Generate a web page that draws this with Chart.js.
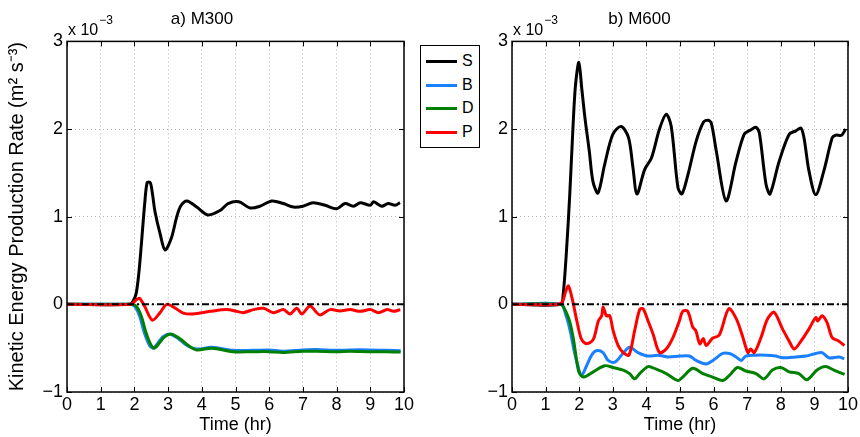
<!DOCTYPE html>
<html>
<head>
<meta charset="utf-8">
<script src="https://cdn.jsdelivr.net/npm/chart.js@4"></script>
<style>
  body { margin: 0; background: #fff; font-family: "Liberation Sans", Arial, sans-serif; }
  .panel { position: absolute; top: 0; }
  #legend { position: absolute; left: 420px; top: 45px; width: 58px; height: 101px;
            border: 1px solid #000; background: #fff; }
  #legend .row { position: absolute; left: 5px; height: 20px; }
  #legend .ln { position: absolute; left: 0; top: 9px; width: 31px; height: 3px; }
  #legend .lb { position: absolute; left: 36px; top: 0; font-size: 16px; line-height: 20px; }
</style>
</head>
<body>
<div class="panel" style="left:0"><canvas id="chart1" width="430" height="437"></canvas></div>
<div class="panel" style="left:430px"><canvas id="chart2" width="430" height="437"></canvas></div>
<div id="legend"></div>
<script>
// values in units of 1e-3 m^2 s^-3, time in hours
const seriesNames = ['S', 'B', 'D', 'P'];
const seriesColors = ['#000000', '#1a80ff', '#008000', '#ff0000'];
const xTicks = [0, 10];
const yTicks = [-1, 3];

// a) M300
const tS300 = [0,1.85,1.95,2.05,2.13,2.21,2.31,2.38,2.47,2.54,2.61,2.76,2.91,3.1,3.25,3.37,3.56,3.85,4.18,4.54,4.78,5.1,5.43,5.73,6.08,6.42,6.72,7.0,7.3,7.66,8.0,8.25,8.5,8.7,9.0,9.1,9.34,9.53,9.74,9.88];
const vS300 = [0,0,0.03,0.12,0.35,0.7,1.17,1.39,1.39,1.25,1.06,0.81,0.62,0.76,0.99,1.12,1.18,1.11,1.02,1.07,1.15,1.17,1.10,1.12,1.18,1.15,1.11,1.12,1.16,1.13,1.09,1.15,1.12,1.16,1.13,1.17,1.12,1.15,1.13,1.16];
const tB300 = [0,1.85,2.0,2.15,2.3,2.45,2.56,2.7,2.85,3.06,3.3,3.56,3.85,4.3,4.93,5.5,6.0,6.4,7.0,7.4,8.0,8.4,9.0,9.5,9.9];
const vB300 = [0,0,-0.02,-0.13,-0.33,-0.47,-0.50,-0.44,-0.37,-0.34,-0.39,-0.47,-0.51,-0.49,-0.525,-0.525,-0.52,-0.535,-0.52,-0.515,-0.525,-0.52,-0.52,-0.525,-0.53];
const tD300 = [0,1.9,2.05,2.2,2.35,2.5,2.6,2.74,2.9,3.1,3.34,3.6,3.85,4.3,4.93,5.5,6.0,6.4,7.0,7.4,8.0,8.4,9.0,9.5,9.9];
const vD300 = [0,0,-0.02,-0.13,-0.33,-0.47,-0.50,-0.44,-0.37,-0.34,-0.39,-0.47,-0.52,-0.50,-0.54,-0.54,-0.54,-0.55,-0.535,-0.535,-0.54,-0.535,-0.54,-0.54,-0.545];
const tP300 = [0,1.9,2.05,2.15,2.3,2.53,2.75,2.96,3.2,3.45,3.74,4.25,4.74,5.04,5.23,5.53,5.83,6.13,6.42,6.62,6.82,6.97,7.21,7.5,7.8,8.1,8.4,8.7,9.0,9.24,9.5,9.69,9.89];
const vP300 = [0,0,0.05,0.07,-0.02,-0.18,-0.1,0,-0.04,-0.1,-0.11,-0.08,-0.06,-0.08,-0.095,-0.06,-0.045,-0.095,-0.06,-0.11,-0.045,-0.11,-0.02,-0.12,-0.06,-0.075,-0.06,-0.08,-0.06,-0.095,-0.06,-0.08,-0.06];

// b) M600
const tS600 = [0,1.45,1.52,1.62,1.72,1.82,1.89,1.99,2.08,2.17,2.3,2.41,2.56,2.76,3.0,3.25,3.47,3.6,3.72,3.95,4.15,4.39,4.59,4.74,4.94,5.06,5.25,5.48,5.7,5.83,5.93,6.08,6.37,6.67,6.91,7.1,7.26,7.36,7.56,7.68,7.95,8.25,8.45,8.6,8.69,8.84,9.04,9.28,9.53,9.63,9.81,9.93];
const vS600 = [0,0,0.1,0.6,1.26,2.06,2.5,2.76,2.45,2.13,1.75,1.4,1.27,1.6,1.94,2.03,1.9,1.56,1.26,1.54,1.67,2.0,2.17,2.03,1.33,1.26,1.5,1.86,2.08,2.10,2.07,1.75,1.18,1.63,1.94,1.99,2.02,1.96,1.37,1.26,1.63,1.94,1.98,2.01,1.9,1.52,1.25,1.52,1.9,1.93,1.93,2.0];
const tB600 = [0,1.45,1.6,1.73,1.85,1.93,2.07,2.22,2.37,2.51,2.71,2.86,3.06,3.3,3.5,3.75,4.05,4.34,4.64,4.99,5.28,5.48,5.78,5.98,6.27,6.47,6.67,6.82,6.96,7.26,7.56,7.85,8.05,8.45,8.75,9.04,9.23,9.43,9.73,9.89];
const vB600 = [0,0,-0.12,-0.3,-0.53,-0.66,-0.81,-0.70,-0.58,-0.53,-0.55,-0.64,-0.66,-0.56,-0.49,-0.55,-0.59,-0.58,-0.60,-0.59,-0.59,-0.64,-0.68,-0.64,-0.56,-0.56,-0.60,-0.64,-0.59,-0.58,-0.58,-0.59,-0.61,-0.60,-0.59,-0.56,-0.55,-0.61,-0.60,-0.62];
const tD600 = [0,1.45,1.6,1.72,1.83,1.92,2.0,2.14,2.42,2.76,3.01,3.31,3.5,3.65,3.8,4.05,4.29,4.59,4.94,5.08,5.38,5.68,5.97,6.27,6.47,6.71,6.96,7.26,7.5,7.75,8.0,8.25,8.54,8.78,9.08,9.33,9.58,9.9];
const vD600 = [0,0,-0.08,-0.2,-0.4,-0.63,-0.78,-0.83,-0.77,-0.70,-0.72,-0.75,-0.79,-0.85,-0.79,-0.71,-0.74,-0.79,-0.87,-0.83,-0.73,-0.79,-0.83,-0.87,-0.81,-0.72,-0.76,-0.79,-0.85,-0.75,-0.72,-0.77,-0.79,-0.86,-0.75,-0.71,-0.75,-0.80];
const tP600 = [0,1.38,1.5,1.6,1.68,1.8,1.93,2.07,2.23,2.42,2.57,2.67,2.71,2.81,2.91,3.01,3.16,3.31,3.48,3.65,3.8,3.9,4.05,4.2,4.39,4.59,4.79,4.98,5.08,5.23,5.38,5.47,5.59,5.69,5.78,5.96,6.17,6.45,6.67,6.85,7.02,7.1,7.21,7.41,7.6,7.8,8.05,8.25,8.4,8.6,8.84,9.04,9.1,9.23,9.38,9.53,9.73,9.89];
const vP600 = [0,0,0.03,0.15,0.21,0.05,-0.19,-0.40,-0.45,-0.40,-0.19,-0.13,-0.03,-0.13,-0.13,-0.30,-0.47,-0.55,-0.58,-0.30,-0.06,-0.05,-0.19,-0.34,-0.55,-0.51,-0.38,-0.19,-0.08,-0.08,-0.26,-0.30,-0.45,-0.39,-0.47,-0.39,-0.35,-0.05,-0.16,-0.35,-0.55,-0.51,-0.55,-0.38,-0.17,-0.09,-0.28,-0.42,-0.51,-0.42,-0.28,-0.15,-0.19,-0.13,-0.21,-0.38,-0.42,-0.47];

const zeroT = [0, 10];
const zeroV = [0, 0];

const FONT = '"Liberation Sans", Arial, sans-serif';

function pts(t, v) {
  return t.map((x, i) => ({x: x, y: v[i]}));
}

function line(label, t, v, color, order) {
  return {
    label: label, data: pts(t, v), borderColor: color, borderWidth: 3,
    pointRadius: 0, tension: 0.3, fill: false, order: order
  };
}

// box with inward ticks and the "x 10^-3" multiplier, like a matlab axes
const boxPlugin = {
  id: 'box',
  afterDatasetsDraw(chart) {
    const ctx = chart.ctx, a = chart.chartArea;
    const xs = chart.scales.x, ys = chart.scales.y;
    ctx.save();
    ctx.strokeStyle = '#000';
    ctx.lineWidth = 1;
    ctx.beginPath();
    xs.ticks.forEach(t => {
      const p = Math.round(xs.getPixelForValue(t.value)) + 0.5;
      ctx.moveTo(p, a.bottom); ctx.lineTo(p, a.bottom - 5);
      ctx.moveTo(p, a.top); ctx.lineTo(p, a.top + 5);
    });
    ys.ticks.forEach(t => {
      const p = Math.round(ys.getPixelForValue(t.value)) + 0.5;
      ctx.moveTo(a.left, p); ctx.lineTo(a.left + 5, p);
      ctx.moveTo(a.right, p); ctx.lineTo(a.right - 5, p);
    });
    ctx.stroke();
    ctx.lineWidth = 1.5;
    ctx.strokeRect(a.left, a.top, a.right - a.left, a.bottom - a.top);
    ctx.fillStyle = '#000';
    ctx.textBaseline = 'alphabetic';
    ctx.font = '16px ' + FONT;
    ctx.fillText('x 10', a.left + 1, a.top - 6);
    const w = ctx.measureText('x 10').width;
    ctx.font = '12px ' + FONT;
    ctx.fillText('\u22123', a.left + 2 + w, a.top - 17);
    ctx.restore();
  }
};

function makeChart(id, title, sets, yWidth, padRight, showYTitle) {
  return new Chart(document.getElementById(id), {
    type: 'line',
    data: {
      datasets: [
        line('S', sets[0][0], sets[0][1], seriesColors[0], 5),
        line('B', sets[1][0], sets[1][1], seriesColors[1], 4),
        line('D', sets[2][0], sets[2][1], seriesColors[2], 3),
        line('P', sets[3][0], sets[3][1], seriesColors[3], 2),
        {label: 'zero', data: pts(zeroT, zeroV), borderColor: '#000', borderWidth: 2,
         borderDash: [7, 3, 2, 3], pointRadius: 0, order: 1}
      ]
    },
    options: {
      responsive: false,
      animation: false,
      layout: {padding: {left: 0, right: padRight, top: 0, bottom: 0}},
      plugins: {
        legend: {display: false},
        tooltip: {enabled: false},
        title: {display: true, text: title, color: '#000',
                font: {family: FONT, size: 17, weight: 'normal'},
                padding: {top: 9, bottom: 12}}
      },
      scales: {
        x: {
          type: 'linear', min: xTicks[0], max: xTicks[1],
          afterFit(s) { s.height = 45; },
          ticks: {stepSize: 1, color: '#000', padding: 2, maxRotation: 0, autoSkip: false,
                  font: {family: FONT, size: 18}},
          grid: {color: '#b8b8b8', lineWidth: 1, drawTicks: false},
          border: {display: false, dash: [1, 3]},
          title: {display: true, text: 'Time (hr)', color: '#000',
                  font: {family: FONT, size: 18}, padding: {top: 0, bottom: 1}}
        },
        y: {
          min: yTicks[0], max: yTicks[1],
          afterFit(s) { s.width = yWidth; },
          ticks: {stepSize: 1, color: '#000', padding: 4,
                  font: {family: FONT, size: 18},
                  callback: v => (v < 0 ? '\u2212' + Math.abs(v) : String(v))},
          grid: {color: '#b8b8b8', lineWidth: 1, drawTicks: false},
          border: {display: false, dash: [1, 3]},
          title: {display: showYTitle, text: 'Kinetic Energy Production Rate (m\u00b2 s\u207b\u00b3)',
                  color: '#000', font: {family: FONT, size: 20}, padding: {top: 5, bottom: 0}}
        }
      }
    },
    plugins: [boxPlugin]
  });
}

makeChart('chart1', 'a) M300',
  [[tS300, vS300], [tB300, vB300], [tD300, vD300], [tP300, vP300]], 67, 26, true);
makeChart('chart2', 'b) M600',
  [[tS600, vS600], [tB600, vB600], [tD600, vD600], [tP600, vP600]], 82, 11, false);

// legend box
const lg = document.getElementById('legend');
seriesNames.forEach((n, i) => {
  const row = document.createElement('div');
  row.className = 'row';
  row.style.top = (5 + i * 23.5) + 'px';
  row.innerHTML = '<div class="ln" style="background:' + seriesColors[i] + '"></div><div class="lb">' + n + '</div>';
  lg.appendChild(row);
});
</script>
</body>
</html>
